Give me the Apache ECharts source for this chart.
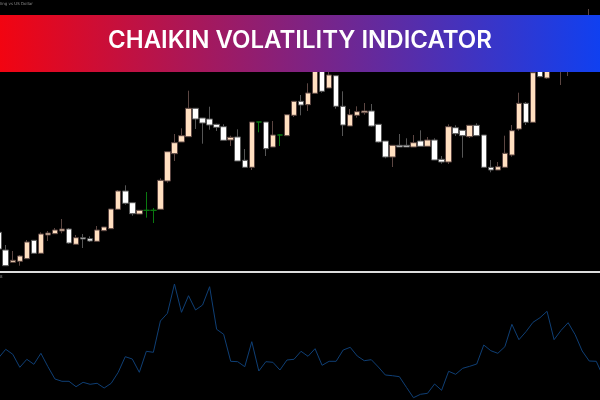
<!DOCTYPE html>
<html>
<head>
<meta charset="utf-8">
<style>
  html, body { margin: 0; padding: 0; background: #000; }
  #main { width: 600px; height: 400px; }
</style>
<script src="https://cdn.jsdelivr.net/npm/echarts@6/dist/echarts.min.js"></script>
</head>
<body>
<div id="main"></div>
<script>
// 标题文字
var titleText = 'CHAIKIN VOLATILITY INDICATOR';
var symbolText = 'ling vs US Dollar';
var panelText = '8';

// candles (price = height above the lower panel)
var opens = [39.7,22,9.7,10.7,13.3,31.7,18.7,37,38.3,41,43,27.7,34.3,33.3,30.7,41.3,43.3,62.7,81,69.3,58,61.7,61.7,62.7,91,118.3,130,135.3,163.7,154,153,147.7,145.3,132,135,111.7,104.7,150,150,125,137,136.3,156.7,170.7,167.3,178.7,212,184,196.3,165.7,146,156.7,159.3,161,147.7,131,115,126.7,126.7,125,131,125.7,132,112.7,110,144.3,141.7,135.3,146.7,137,104.7,102,104.7,117,143,168.7,149.7,205,194,205,205,205,212,218,215,222,222];
var closes = [23,6.3,11.7,16,30,18.7,38,39,42,43,29,34.3,33,31,42,45,63,81,68.7,58.3,61.7,61.7,61.7,91.7,120.3,129.3,136.3,163.7,153,149,147,144.7,131.7,134.7,111,104.7,150,150,123.3,137,137,157.3,170.7,167,179,210,180.7,197,165.7,147,157.3,160.3,161,146,130,115,126.7,125,125,129.3,125.7,132,112,110,145.3,138.3,136.3,146.7,136.3,104.7,102,105.3,118.7,141.3,168.7,149.7,199.3,195.3,208,215,215,212,205,225,225,230,230];
var lows = [23,6.3,9.7,6.3,13.3,18.7,18.7,31,38.3,38.7,28,27.7,24,30,30.7,41.3,43.3,62.7,67.3,56.3,58,54.3,49,62.7,89.3,111,130,135.3,143,128.3,142.3,141,131.7,126,111,104.7,102,139.7,116,125,126,136.3,155,156.7,161,178.7,179.3,184,163.3,136,146,154.3,157.3,145.3,129.3,113.7,105,125,125,125,125.7,125.7,112,108.3,108,136,114.3,134,136.3,104.7,99.7,102,104.7,115.3,141.3,147,149.7,194.7,193,205,187,196,205,218,210,222,222];
var highs = [39.7,27,21,17,32,31.7,39.7,41,44,53,44,37,38,35.7,46,45,63,82,86.7,69.3,61.7,80,64,93.7,120.3,138,143.7,181.3,163.7,154,165.3,148.3,147.7,136.3,142.7,123,150,150,150,151,137.7,157.3,170.7,177,188.7,210,212,200.3,196.3,180.7,163,165.7,169,168,147.7,131,126.7,138,133.7,137,141.7,135,133.7,116,147.7,146.7,141.7,146.7,148.7,137,112,110,136.3,147,179.3,170,199.3,205,208,215,215,212,212,225,263,230,230];

// Chaikin volatility values
var volatility = [42.3,50.7,45.7,32.7,40.7,35.7,46.7,33.3,21,18.7,18.7,13.3,17.7,15.7,16.7,12,16.7,27.7,43.3,41,27.7,48.7,47.7,79,86.7,116,87.7,104.3,90,95,113.3,70.7,65.7,38.7,38.3,33.3,58.3,29,38.3,37.7,30,40,40.7,48.7,43.7,51.3,34.7,38.7,38.7,50,52.7,44,39.3,40.3,33,25,24.3,23.3,12.7,2.3,5.7,6.7,16,9.7,28.7,25.7,31.7,33.7,36,55,49.3,46.7,53.3,75.7,60.3,68.3,77.7,82.3,88.7,60.3,69.7,77.3,65.3,49,39,38.7,23.3];

var categories = opens.map(function(v, i) { return i; });
// open == close 的蜡烛画成绿色
var dojiColor = '#0a7a10';
var candles = opens.map(function(v, i) {
  var item = { value: [opens[i], closes[i], lows[i], highs[i]] };
  if (opens[i] === closes[i]) {
    item.itemStyle = { borderColor: dojiColor, borderColor0: dojiColor, borderColorDoji: dojiColor };
  }
  return item;
});

var option = {
  backgroundColor: '#000',
  animation: false,
  grid: [
    { left: -4.8, width: 611.6, top: 0, height: 272, outerBoundsMode: 'none' },
    { left: -4.8, width: 611.6, top: 272, height: 128, outerBoundsMode: 'none' }
  ],
  xAxis: [
    { type: 'category', gridIndex: 0, data: categories, show: false },
    {
      type: 'category', gridIndex: 1, data: categories, position: 'top',
      axisLine: { show: true, onZero: false, lineStyle: { color: '#dcdcdc', width: 2 } },
      axisTick: { show: false }, axisLabel: { show: false }, splitLine: { show: false }
    }
  ],
  yAxis: [
    { type: 'value', gridIndex: 0, min: 0, max: 272, show: false },
    { type: 'value', gridIndex: 1, min: 0, max: 128, show: false }
  ],
  series: [
    {
      type: 'candlestick',
      xAxisIndex: 0, yAxisIndex: 0,
      data: candles,
      barWidth: 6,
      clip: true,
      itemStyle: {
        color: '#ffdfc0',
        color0: '#ffffff',
        borderColor: '#5c4642',
        borderColor0: '#565656',
        borderColorDoji: dojiColor,
        borderWidth: 1
      }
    },
    {
      type: 'line',
      xAxisIndex: 1, yAxisIndex: 1,
      data: volatility,
      symbol: 'none',
      lineStyle: { color: '#0f3f75', width: 1 }
    }
  ],
  graphic: [
    {
      type: 'rect', z: 100, silent: true,
      shape: { x: 0, y: 15, width: 600, height: 57 },
      style: {
        fill: {
          type: 'linear', x: 0, y: 0, x2: 1, y2: 0,
          colorStops: [
            { offset: 0, color: '#f20411' },
            { offset: 1, color: '#1040f0' }
          ]
        }
      }
    },
    {
      type: 'text', z: 101, silent: true, x: 300, y: 40.5,
      style: {
        text: titleText, fill: '#fff', align: 'center', verticalAlign: 'middle',
        font: '600 24px Inter, "Open Sans", sans-serif'
      }
    },
    {
      type: 'text', z: 101, silent: true, x: 0, y: 2,
      style: { text: symbolText, fill: '#8a8a8a', font: '4px "DejaVu Sans", sans-serif' }
    },
    {
      type: 'text', z: 101, silent: true, x: 0, y: 275,
      style: { text: panelText, fill: '#8a8a8a', font: '4px "DejaVu Sans", sans-serif' }
    }
  ]
};

var myChart = echarts.init(document.getElementById('main'));
myChart.setOption(option);
</script>
</body>
</html>
